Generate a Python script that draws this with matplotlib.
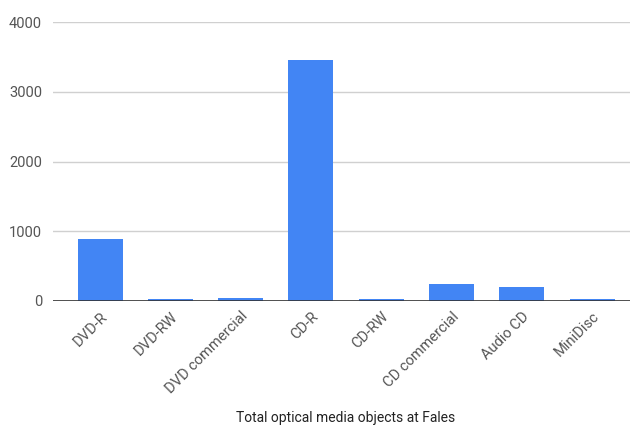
import matplotlib
matplotlib.use("Agg")
import matplotlib.pyplot as plt

categories = ["DVD-R", "DVD-RW", "DVD commercial", "CD-R", "CD-RW", "CD commercial", "Audio CD", "MiniDisc"]
values = [890, 25, 45, 3450, 22, 245, 195, 25]
yticks = [0, 1000, 2000, 3000, 4000]
xlabel = "Total optical media objects at Fales"

plt.rcParams['font.family'] = ['Roboto', 'DejaVu Sans']
fig = plt.figure(figsize=(6.3, 4.25), dpi=100)
ax = fig.add_axes([53/630, 1-301/425, 1-53/630, (301-22)/425])

x = list(range(len(categories)))
ax.bar(x, values, width=0.64, color="#4285F4", zorder=3)
ax.set_xlim(-0.67, 7.54)
ax.set_ylim(0, 4000)
ax.set_yticks(yticks)
ax.set_yticklabels([str(v) for v in yticks], fontsize=10.5, color="#555555")
ax.grid(axis="y", color="#d0d0d0", linewidth=1, zorder=0)
ax.axhline(0, color="#333333", linewidth=1.2, zorder=4)
for s in ax.spines.values():
    s.set_visible(False)
ax.tick_params(axis="both", length=0)
ax.tick_params(axis="y", pad=8)
ax.set_xticks(x)
ax.set_xticklabels(categories, rotation=45, ha="right", rotation_mode="anchor",
                   fontsize=10.5, color="#555555")
ax.tick_params(axis="x", pad=6)
fig.text(0.548, 1-418/425, xlabel, ha="center", va="center", fontsize=10, color="#222222")
fig.savefig("out.png", dpi=100)
